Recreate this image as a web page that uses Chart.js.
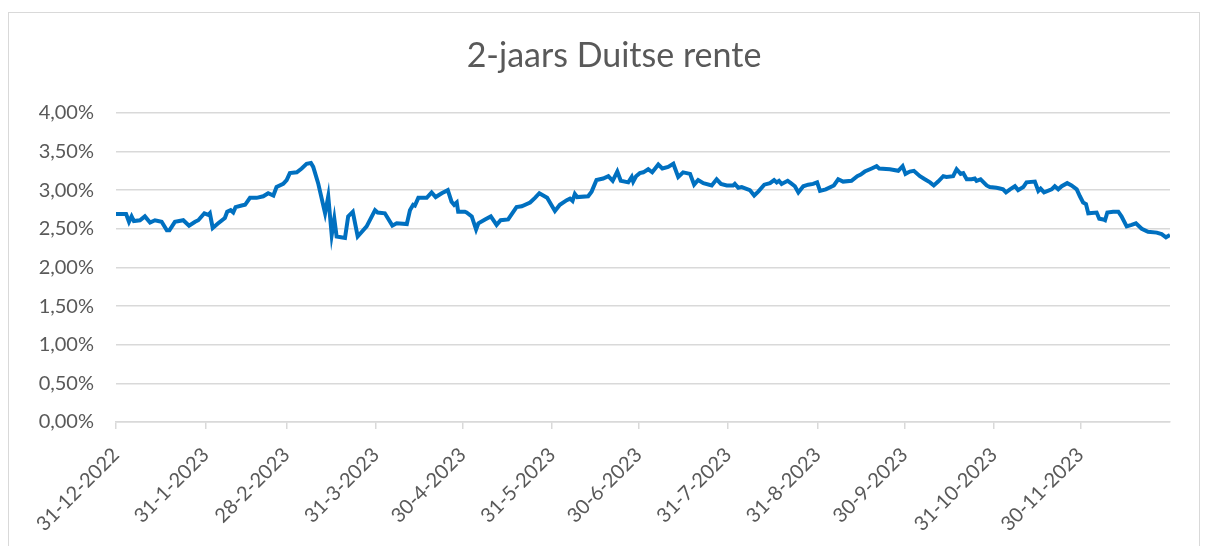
<!DOCTYPE html>
<html>
<head>
<meta charset="utf-8">
<script src="https://cdn.jsdelivr.net/npm/chart.js@4"></script>
<style>
  html, body { margin: 0; padding: 0; background: #fff; }
  #wrap { position: relative; width: 1207px; height: 546px; overflow: hidden; }
  #frame { position: absolute; left: 8px; top: 12px; width: 1190px; height: 560px; border: 1px solid #d9d9d9; }
  #rente { position: absolute; left: 0; top: 0; }
</style>
</head>
<body>
<div id="wrap">
  <div id="frame"></div>
  <canvas id="rente" width="1207" height="546"></canvas>
</div>
<script>
// 2-jaars Duitse rente, dagen sinds 31-12-2022 //
const tickDays = [0, 31, 59, 90, 120, 151, 181, 212, 243, 273, 304, 334];
const tickLabels = ["31-12-2022", "31-1-2023", "28-2-2023", "31-3-2023", "30-4-2023", "31-5-2023",
  "30-6-2023", "31-7-2023", "31-8-2023", "30-9-2023", "31-10-2023", "30-11-2023"];

const days = [
  0, 3.5, 4.5, 5.4, 6.2, 8.3, 10.0, 11.8, 13.5, 15.8, 17.6, 18.5, 20.4, 23.3, 25.3, 27.4, 28.5, 30.6, 32.0, 32.5,
  33.5, 35.4, 37.7, 38.5, 39.7, 40.6, 41.4, 43.5, 44.7, 46.4, 48.7, 51.0, 52.7, 54.5, 55.6, 57.9, 59.1, 60.2, 62.6, 64.3,
  66.0, 67.5, 68.3, 70.0, 72.4, 73.5, 74.7, 75.6, 76.4, 79.3, 80.4, 82.0, 83.7, 86.8, 89.7, 90.6, 93.1, 95.7, 97.2, 100.7,
  101.8, 102.9, 103.5, 104.7, 107.6, 109.3, 110.7, 112.8, 114.9, 116.2, 117.1, 118.0, 118.5, 120.8, 121.4, 123.2, 124.7, 125.5, 127.8, 129.8,
  131.8, 133.2, 135.8, 138.7, 140.5, 143.4, 145.1, 146.6, 149.3, 152.0, 153.7, 156.1, 157.2, 158.1, 158.9, 159.7, 163.5, 164.7, 166.4, 168.7,
  170.5, 172.0, 173.6, 174.8, 177.4, 178.6, 179.1, 180.1, 181.4, 182.6, 184.3, 185.7, 187.8, 189.2, 191.2, 193.0, 194.7, 196.4, 198.8, 200.2,
  201.6, 203.4, 206.3, 208.0, 209.5, 211.5, 213.7, 214.3, 215.5, 216.7, 219.5, 221.0, 222.4, 224.5, 226.5, 227.9, 228.8, 229.6, 230.5, 232.6,
  233.7, 235.1, 236.3, 238.0, 239.7, 241.4, 242.8, 243.8, 245.8, 248.6, 250.1, 251.8, 254.7, 256.7, 257.9, 259.3, 261.7, 263.4, 264.3, 268.0,
  270.9, 272.4, 273.4, 274.9, 276.3, 278.4, 280.1, 281.9, 283.2, 284.7, 286.5, 287.6, 289.9, 291.1, 292.5, 293.4, 294.6, 296.3, 297.4, 298.0,
  299.4, 301.5, 302.6, 304.9, 306.1, 307.2, 308.2, 309.6, 311.3, 312.4, 314.2, 315.3, 318.2, 319.4, 320.2, 321.4, 324.0, 325.1, 326.3, 327.5,
  329.4, 330.9, 332.7, 333.8, 334.9, 335.9, 336.7, 339.6, 340.5, 341.9, 342.5, 343.3, 345.3, 347.1, 348.2, 350.0, 351.7, 353.2, 355.2, 357.4,
  360.4, 362.1, 363.6, 365.0
];
const rates = [
  2.69, 2.69, 2.59, 2.66, 2.60, 2.61, 2.66, 2.58, 2.61, 2.59, 2.48, 2.48, 2.59, 2.61, 2.54, 2.59, 2.61, 2.70, 2.68, 2.70,
  2.51, 2.57, 2.64, 2.72, 2.74, 2.71, 2.78, 2.80, 2.81, 2.90, 2.90, 2.92, 2.96, 2.93, 3.04, 3.08, 3.13, 3.22, 3.23, 3.28,
  3.34, 3.35, 3.30, 3.09, 2.70, 2.92, 2.42, 2.63, 2.40, 2.38, 2.66, 2.72, 2.40, 2.53, 2.74, 2.71, 2.70, 2.54, 2.57, 2.56,
  2.74, 2.81, 2.80, 2.90, 2.90, 2.97, 2.91, 2.96, 3.00, 2.85, 2.81, 2.84, 2.72, 2.72, 2.71, 2.66, 2.49, 2.57, 2.62, 2.66,
  2.55, 2.61, 2.62, 2.78, 2.79, 2.84, 2.90, 2.96, 2.90, 2.73, 2.81, 2.87, 2.89, 2.86, 2.95, 2.91, 2.92, 2.98, 3.13, 3.15,
  3.18, 3.12, 3.24, 3.12, 3.10, 3.17, 3.11, 3.18, 3.22, 3.23, 3.27, 3.23, 3.33, 3.28, 3.30, 3.34, 3.17, 3.23, 3.21, 3.07,
  3.13, 3.09, 3.06, 3.14, 3.08, 3.06, 3.06, 3.08, 3.03, 3.04, 3.00, 2.93, 2.98, 3.07, 3.09, 3.13, 3.10, 3.12, 3.08, 3.12,
  3.09, 3.05, 2.97, 3.05, 3.07, 3.08, 3.10, 2.99, 3.01, 3.06, 3.14, 3.11, 3.12, 3.18, 3.20, 3.24, 3.28, 3.31, 3.28, 3.27,
  3.25, 3.31, 3.21, 3.24, 3.25, 3.18, 3.14, 3.10, 3.06, 3.11, 3.18, 3.17, 3.18, 3.27, 3.21, 3.22, 3.14, 3.14, 3.15, 3.12,
  3.14, 3.06, 3.04, 3.03, 3.02, 3.01, 2.97, 3.01, 3.05, 3.00, 3.04, 3.10, 3.11, 2.99, 3.02, 2.97, 3.01, 3.05, 3.01, 3.05,
  3.09, 3.06, 3.01, 2.92, 2.84, 2.82, 2.70, 2.71, 2.63, 2.62, 2.61, 2.71, 2.72, 2.72, 2.66, 2.53, 2.55, 2.57, 2.50, 2.46,
  2.45, 2.43, 2.39, 2.42
];

const textColor = "#595959";
const gridColor = "#d9d9d9";

var ctx = document.getElementById("rente").getContext('2d');

var renteChart = new Chart(ctx, {
  type: 'line',
  data: {
    datasets: [{
      label: "2-jaars Duitse rente",
      data: days.map((d, i) => ({ x: d, y: rates[i] })),
      borderColor: "#0070C0",
      borderWidth: 4,
      pointRadius: 0,
      tension: 0,
      fill: false
    }]
  },
  options: {
    responsive: false,
    animation: false,
    layout: {
      // titel staat in Excel iets rechts van het midden
      padding: { top: 0, right: 0, bottom: 0, left: 21 }
    },
    plugins: {
      legend: { display: false },
      tooltip: { enabled: false },
      title: {
        display: true,
        text: "2-jaars Duitse rente",
        color: textColor,
        font: { family: "Lato", size: 34, weight: 'normal', lineHeight: 1.2 },
        padding: { top: 36, bottom: 36 }
      }
    },
    scales: {
      x: {
        type: 'linear',
        min: 0,
        max: 365,
        afterBuildTicks: function(scale) {
          scale.ticks = tickDays.map(v => ({ value: v }));
        },
        afterFit: function(scale) {
          scale.height = 124;
        },
        ticks: {
          autoSkip: false,
          maxRotation: 45,
          minRotation: 45,
          padding: 14,
          color: textColor,
          font: { family: "Lato", size: 20 },
          callback: function(value, index) {
            return tickLabels[index];
          }
        },
        grid: {
          drawOnChartArea: false,
          color: gridColor,
          tickLength: 7,
          lineWidth: 1.5
        },
        border: { color: gridColor, width: 1.5 }
      },
      y: {
        min: 0,
        max: 4,
        afterFit: function(scale) {
          scale.width = 95;
        },
        ticks: {
          stepSize: 0.5,
          padding: 22,
          color: textColor,
          font: { family: "Lato", size: 20 },
          callback: function(value) {
            return value.toFixed(2).replace('.', ',') + '%';
          }
        },
        grid: {
          color: gridColor,
          lineWidth: 1.5,
          drawTicks: false
        },
        border: { display: false }
      },
      // lege ruimte rechts van het plotvlak
      rechts: {
        position: 'right',
        afterFit: function(scale) {
          scale.width = 37;
        },
        ticks: { display: false },
        grid: { display: false },
        border: { display: false }
      }
    }
  }
});
</script>
</body>
</html>
